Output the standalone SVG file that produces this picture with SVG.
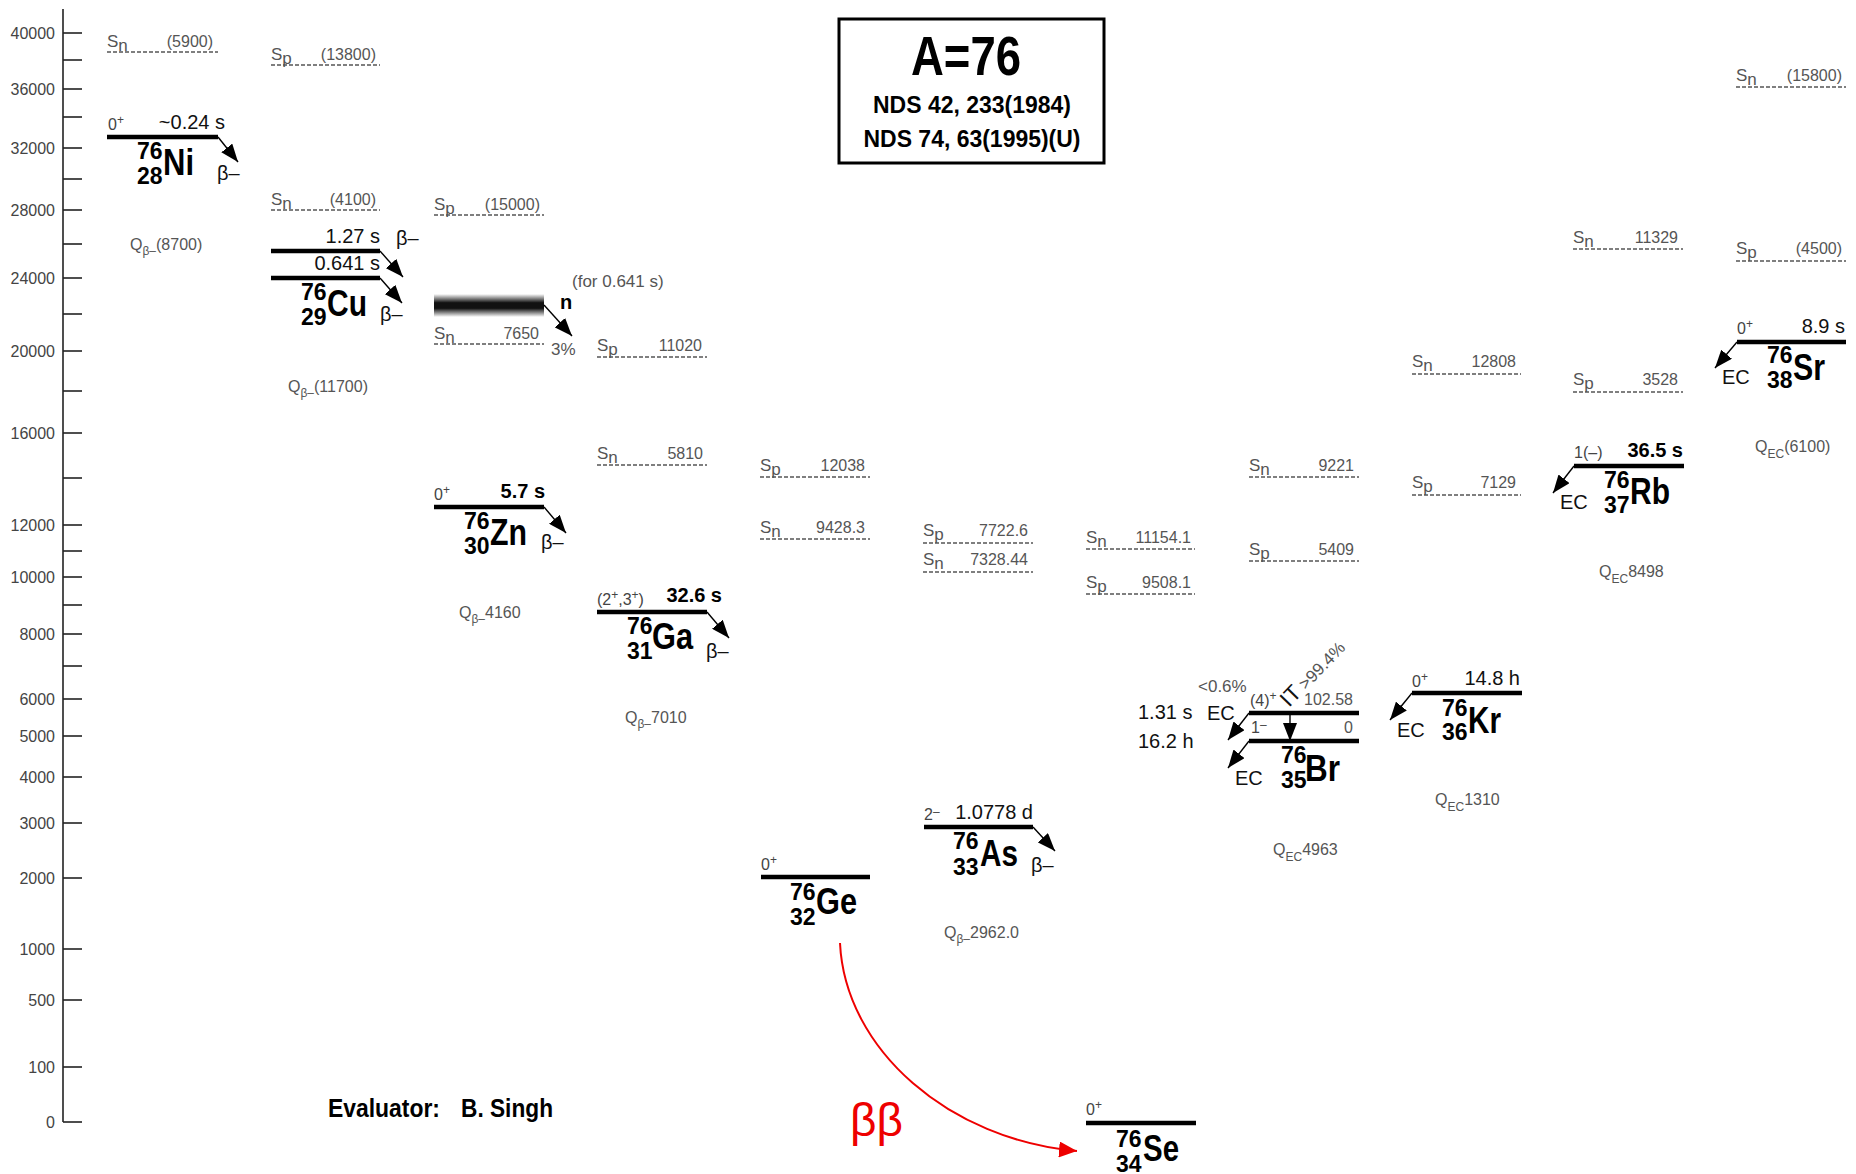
<svg xmlns="http://www.w3.org/2000/svg" width="1856" height="1174" viewBox="0 0 1856 1174">
<style>
text{font-family:"Liberation Sans",Arial,sans-serif}
.ax{font-size:16px;fill:#444;text-anchor:end}
.axl{stroke:#222;stroke-width:1.6}
.g{font-size:17px;fill:#555}
.ge{font-size:16px;fill:#555;text-anchor:end}
.dash{stroke:#555;stroke-width:1.4;stroke-dasharray:4 2}
.lvl{stroke:#000;stroke-width:4.5}
.sp{font-size:16px;fill:#444}
.sup{font-size:12px}
.hl{font-size:20px;fill:#111;text-anchor:end}
.hb{font-size:20px;fill:#000;font-weight:bold;text-anchor:end}
.mass{font-size:23px;font-weight:bold;fill:#000}
.sym{font-size:37px;font-weight:bold;fill:#000}
.q{font-size:16px;fill:#555}
.qs{font-size:12px}
.lab{font-size:20px;fill:#111}
.arr{stroke:#000;stroke-width:1.4;fill:none;marker-end:url(#ah)}
.tb{font-weight:bold;fill:#000;text-anchor:middle}
</style>
<defs>
<marker id="ah" markerUnits="userSpaceOnUse" markerWidth="18" markerHeight="14" refX="18" refY="7" orient="auto" viewBox="0 0 18 14"><path d="M0,0 L18,7 L0,14 z" fill="#000"/></marker>
<marker id="ahr" markerUnits="userSpaceOnUse" markerWidth="18" markerHeight="16" refX="18" refY="8" orient="auto" viewBox="0 0 18 16"><path d="M0,0 L18,8 L0,16 z" fill="#e00"/></marker>
<linearGradient id="band" x1="0" y1="0" x2="0" y2="1">
<stop offset="0" stop-color="#fff"/><stop offset="0.38" stop-color="#111"/><stop offset="0.62" stop-color="#111"/><stop offset="1" stop-color="#fff"/>
</linearGradient>
</defs>
<rect width="1856" height="1174" fill="#fff"/>

<g id="axis">
<line class="axl" x1="63" y1="9" x2="63" y2="1122"/>
<g class="axl">
<line x1="63" y1="33" x2="82" y2="33"/><line x1="63" y1="60" x2="82" y2="60"/><line x1="63" y1="89" x2="82" y2="89"/><line x1="63" y1="117" x2="82" y2="117"/><line x1="63" y1="148" x2="82" y2="148"/><line x1="63" y1="179" x2="82" y2="179"/><line x1="63" y1="210" x2="82" y2="210"/><line x1="63" y1="244" x2="82" y2="244"/><line x1="63" y1="278" x2="82" y2="278"/><line x1="63" y1="314" x2="82" y2="314"/><line x1="63" y1="351" x2="82" y2="351"/><line x1="63" y1="391" x2="82" y2="391"/><line x1="63" y1="433" x2="82" y2="433"/><line x1="63" y1="478" x2="82" y2="478"/><line x1="63" y1="525" x2="82" y2="525"/><line x1="63" y1="551" x2="82" y2="551"/><line x1="63" y1="577" x2="82" y2="577"/><line x1="63" y1="605" x2="82" y2="605"/><line x1="63" y1="634" x2="82" y2="634"/><line x1="63" y1="666" x2="82" y2="666"/><line x1="63" y1="699" x2="82" y2="699"/><line x1="63" y1="736" x2="82" y2="736"/><line x1="63" y1="777" x2="82" y2="777"/><line x1="63" y1="823" x2="82" y2="823"/><line x1="63" y1="878" x2="82" y2="878"/><line x1="63" y1="949" x2="82" y2="949"/><line x1="63" y1="1000" x2="82" y2="1000"/><line x1="63" y1="1067" x2="82" y2="1067"/><line x1="63" y1="1122" x2="82" y2="1122"/>
</g>
<text class="ax" x="55" y="39">40000</text><text class="ax" x="55" y="95">36000</text><text class="ax" x="55" y="154">32000</text><text class="ax" x="55" y="216">28000</text><text class="ax" x="55" y="284">24000</text><text class="ax" x="55" y="357">20000</text><text class="ax" x="55" y="439">16000</text><text class="ax" x="55" y="531">12000</text><text class="ax" x="55" y="583">10000</text><text class="ax" x="55" y="640">8000</text><text class="ax" x="55" y="705">6000</text><text class="ax" x="55" y="742">5000</text><text class="ax" x="55" y="783">4000</text><text class="ax" x="55" y="829">3000</text><text class="ax" x="55" y="884">2000</text><text class="ax" x="55" y="955">1000</text><text class="ax" x="55" y="1006">500</text><text class="ax" x="55" y="1073">100</text><text class="ax" x="55" y="1128">0</text>
</g>

<g id="title">
<rect x="839" y="19" width="265" height="144" fill="none" stroke="#000" stroke-width="3"/>
<text class="tb" x="966" y="75" font-size="56" textLength="110" lengthAdjust="spacingAndGlyphs">A=76</text>
<text class="tb" x="972" y="113" font-size="24" textLength="198" lengthAdjust="spacingAndGlyphs">NDS 42, 233(1984)</text>
<text class="tb" x="972" y="147" font-size="24" textLength="217" lengthAdjust="spacingAndGlyphs">NDS 74, 63(1995)(U)</text>
</g>

<g id="evaluator">
<text x="328" y="1117" font-size="25" font-weight="bold" textLength="112" lengthAdjust="spacingAndGlyphs">Evaluator:</text>
<text x="461" y="1117" font-size="25" font-weight="bold" textLength="92" lengthAdjust="spacingAndGlyphs">B. Singh</text>
</g>

<g id="ni76">
<line class="dash" x1="107" y1="52" x2="218" y2="52"/>
<text class="g" x="107" y="47">S<tspan dy="4">n</tspan></text>
<text class="ge" x="213" y="47">(5900)</text>
<line class="lvl" x1="107" y1="137" x2="218" y2="137"/>
<text class="sp" x="108" y="130">0<tspan class="sup" dy="-6">+</tspan></text>
<text class="hl" x="225" y="129">~0.24 s</text>
<text class="mass" x="137" y="159">76</text>
<text class="mass" x="137" y="184">28</text>
<text class="sym" x="163" y="175" textLength="31" lengthAdjust="spacingAndGlyphs">Ni</text>
<text class="q" x="130" y="250">Q<tspan class="qs" dy="5">β–</tspan><tspan dy="-5">(8700)</tspan></text>
</g>

<g id="cu76">
<line class="dash" x1="271" y1="65" x2="380" y2="65"/>
<text class="g" x="271" y="60">S<tspan dy="4">p</tspan></text>
<text class="ge" x="376" y="60">(13800)</text>
<line class="dash" x1="271" y1="210" x2="380" y2="210"/>
<text class="g" x="271" y="205">S<tspan dy="4">n</tspan></text>
<text class="ge" x="376" y="205">(4100)</text>
<line class="lvl" x1="271" y1="251" x2="380" y2="251"/>
<line class="lvl" x1="271" y1="278" x2="380" y2="278"/>
<text class="hl" x="380" y="243">1.27 s</text>
<text class="hl" x="380" y="270">0.641 s</text>
<text class="mass" x="301" y="300">76</text>
<text class="mass" x="301" y="325">29</text>
<text class="sym" x="327" y="316" textLength="40" lengthAdjust="spacingAndGlyphs">Cu</text>
<text class="q" x="288" y="392">Q<tspan class="qs" dy="5">β–</tspan><tspan dy="-5">(11700)</tspan></text>
</g>

<g id="zn76">
<line class="dash" x1="434" y1="215" x2="544" y2="215"/>
<text class="g" x="434" y="210">S<tspan dy="4">p</tspan></text>
<text class="ge" x="540" y="210">(15000)</text>
<rect x="434" y="294" width="110" height="23" fill="url(#band)"/>
<line class="dash" x1="434" y1="344" x2="544" y2="344"/>
<text class="g" x="434" y="339">S<tspan dy="4">n</tspan></text>
<text class="ge" x="539" y="339">7650</text>
<text class="g" x="572" y="287" font-size="16">(for 0.641 s)</text>
<line class="lvl" x1="434" y1="507" x2="544" y2="507"/>
<text class="sp" x="434" y="500">0<tspan class="sup" dy="-6">+</tspan></text>
<text class="hb" x="545" y="498">5.7 s</text>
<text class="mass" x="464" y="529">76</text>
<text class="mass" x="464" y="554">30</text>
<text class="sym" x="490" y="545" textLength="37" lengthAdjust="spacingAndGlyphs">Zn</text>
<text class="q" x="459" y="618">Q<tspan class="qs" dy="5">β–</tspan><tspan dy="-5">4160</tspan></text>
</g>

<g id="ga76">
<line class="dash" x1="597" y1="357" x2="707" y2="357"/>
<text class="g" x="597" y="351">S<tspan dy="4">p</tspan></text>
<text class="ge" x="702" y="351">11020</text>
<line class="dash" x1="597" y1="465" x2="707" y2="465"/>
<text class="g" x="597" y="459">S<tspan dy="4">n</tspan></text>
<text class="ge" x="703" y="459">5810</text>
<line class="lvl" x1="597" y1="612" x2="707" y2="612"/>
<text class="sp" x="597" y="605">(2<tspan class="sup" dy="-6">+</tspan><tspan dy="6">,3</tspan><tspan class="sup" dy="-6">+</tspan><tspan dy="6">)</tspan></text>
<text class="hb" x="722" y="602">32.6 s</text>
<text class="mass" x="627" y="634">76</text>
<text class="mass" x="627" y="659">31</text>
<text class="sym" x="652" y="649" textLength="41" lengthAdjust="spacingAndGlyphs">Ga</text>
<text class="q" x="625" y="723">Q<tspan class="qs" dy="5">β–</tspan><tspan dy="-5">7010</tspan></text>
</g>

<g id="ge76">
<line class="dash" x1="760" y1="477" x2="870" y2="477"/>
<text class="g" x="760" y="471">S<tspan dy="4">p</tspan></text>
<text class="ge" x="865" y="471">12038</text>
<line class="dash" x1="760" y1="539" x2="870" y2="539"/>
<text class="g" x="760" y="533">S<tspan dy="4">n</tspan></text>
<text class="ge" x="865" y="533">9428.3</text>
<line class="lvl" x1="761" y1="877" x2="870" y2="877"/>
<text class="sp" x="761" y="870">0<tspan class="sup" dy="-6">+</tspan></text>
<text class="mass" x="790" y="900">76</text>
<text class="mass" x="790" y="925">32</text>
<text class="sym" x="816" y="914" textLength="41" lengthAdjust="spacingAndGlyphs">Ge</text>
</g>

<g id="as76">
<line class="dash" x1="923" y1="543" x2="1033" y2="543"/>
<text class="g" x="923" y="536">S<tspan dy="4">p</tspan></text>
<text class="ge" x="1028" y="536">7722.6</text>
<line class="dash" x1="923" y1="572" x2="1033" y2="572"/>
<text class="g" x="923" y="565">S<tspan dy="4">n</tspan></text>
<text class="ge" x="1028" y="565">7328.44</text>
<line class="lvl" x1="924" y1="827" x2="1033" y2="827"/>
<text class="sp" x="924" y="820">2<tspan class="sup" dy="-4">–</tspan></text>
<text class="hl" x="1033" y="819">1.0778 d</text>
<text class="mass" x="953" y="849">76</text>
<text class="mass" x="953" y="875">33</text>
<text class="sym" x="980" y="866" textLength="38" lengthAdjust="spacingAndGlyphs">As</text>
<text class="q" x="944" y="938">Q<tspan class="qs" dy="5">β–</tspan><tspan dy="-5">2962.0</tspan></text>
</g>

<g id="se76">
<line class="dash" x1="1086" y1="549" x2="1195" y2="549"/>
<text class="g" x="1086" y="543">S<tspan dy="4">n</tspan></text>
<text class="ge" x="1191" y="543">11154.1</text>
<line class="dash" x1="1086" y1="594" x2="1195" y2="594"/>
<text class="g" x="1086" y="588">S<tspan dy="4">p</tspan></text>
<text class="ge" x="1191" y="588">9508.1</text>
<line class="lvl" x1="1086" y1="1123" x2="1196" y2="1123"/>
<text class="sp" x="1086" y="1115">0<tspan class="sup" dy="-6">+</tspan></text>
<text class="mass" x="1116" y="1147">76</text>
<text class="mass" x="1116" y="1172">34</text>
<text class="sym" x="1143" y="1161" textLength="36" lengthAdjust="spacingAndGlyphs">Se</text>
</g>

<g id="br76">
<line class="dash" x1="1249" y1="477" x2="1359" y2="477"/>
<text class="g" x="1249" y="471">S<tspan dy="4">n</tspan></text>
<text class="ge" x="1354" y="471">9221</text>
<line class="dash" x1="1249" y1="561" x2="1359" y2="561"/>
<text class="g" x="1249" y="555">S<tspan dy="4">p</tspan></text>
<text class="ge" x="1354" y="555">5409</text>
<line class="lvl" x1="1249" y1="713" x2="1359" y2="713"/>
<line class="lvl" x1="1249" y1="741" x2="1359" y2="741"/>
<text class="sp" x="1250" y="706">(4)<tspan class="sup" dy="-6">+</tspan></text>
<text class="ge" x="1353" y="705">102.58</text>
<text class="sp" x="1251" y="733">1<tspan class="sup" dy="-4">–</tspan></text>
<text class="ge" x="1353" y="733">0</text>
<text class="lab" x="1138" y="719">1.31 s</text>
<text class="lab" x="1138" y="748">16.2 h</text>
<text class="mass" x="1281" y="763">76</text>
<text class="mass" x="1281" y="788">35</text>
<text class="sym" x="1305" y="781" textLength="35" lengthAdjust="spacingAndGlyphs">Br</text>
<text class="q" x="1273" y="855">Q<tspan class="qs" dy="6">EC</tspan><tspan dy="-6">4963</tspan></text>
</g>

<g id="kr76">
<line class="dash" x1="1412" y1="374" x2="1521" y2="374"/>
<text class="g" x="1412" y="367">S<tspan dy="4">n</tspan></text>
<text class="ge" x="1516" y="367">12808</text>
<line class="dash" x1="1412" y1="495" x2="1521" y2="495"/>
<text class="g" x="1412" y="488">S<tspan dy="4">p</tspan></text>
<text class="ge" x="1516" y="488">7129</text>
<line class="lvl" x1="1412" y1="693" x2="1522" y2="693"/>
<text class="sp" x="1412" y="687">0<tspan class="sup" dy="-6">+</tspan></text>
<text class="hl" x="1520" y="685">14.8 h</text>
<text class="mass" x="1442" y="716">76</text>
<text class="mass" x="1442" y="740">36</text>
<text class="sym" x="1468" y="733" textLength="33" lengthAdjust="spacingAndGlyphs">Kr</text>
<text class="q" x="1435" y="805">Q<tspan class="qs" dy="6">EC</tspan><tspan dy="-6">1310</tspan></text>
</g>

<g id="rb76">
<line class="dash" x1="1573" y1="249" x2="1683" y2="249"/>
<text class="g" x="1573" y="243">S<tspan dy="4">n</tspan></text>
<text class="ge" x="1678" y="243">11329</text>
<line class="dash" x1="1573" y1="392" x2="1683" y2="392"/>
<text class="g" x="1573" y="385">S<tspan dy="4">p</tspan></text>
<text class="ge" x="1678" y="385">3528</text>
<line class="lvl" x1="1574" y1="466" x2="1684" y2="466"/>
<text class="sp" x="1574" y="458">1(–)</text>
<text class="hb" x="1683" y="457">36.5 s</text>
<text class="mass" x="1604" y="488">76</text>
<text class="mass" x="1604" y="513">37</text>
<text class="sym" x="1630" y="504" textLength="40" lengthAdjust="spacingAndGlyphs">Rb</text>
<text class="q" x="1599" y="577">Q<tspan class="qs" dy="6">EC</tspan><tspan dy="-6">8498</tspan></text>
</g>

<g id="sr76">
<line class="dash" x1="1736" y1="87" x2="1846" y2="87"/>
<text class="g" x="1736" y="81">S<tspan dy="4">n</tspan></text>
<text class="ge" x="1842" y="81">(15800)</text>
<line class="dash" x1="1736" y1="261" x2="1846" y2="261"/>
<text class="g" x="1736" y="254">S<tspan dy="4">p</tspan></text>
<text class="ge" x="1842" y="254">(4500)</text>
<line class="lvl" x1="1737" y1="342" x2="1846" y2="342"/>
<text class="sp" x="1737" y="334">0<tspan class="sup" dy="-6">+</tspan></text>
<text class="hl" x="1845" y="333">8.9 s</text>
<text class="mass" x="1767" y="363">76</text>
<text class="mass" x="1767" y="388">38</text>
<text class="sym" x="1793" y="380" textLength="32" lengthAdjust="spacingAndGlyphs">Sr</text>
<text class="q" x="1755" y="452">Q<tspan class="qs" dy="6">EC</tspan><tspan dy="-6">(6100)</tspan></text>
</g>

<g id="connectors">
<line class="arr" x1="218" y1="137" x2="238" y2="162"/>
<text class="lab" x="217" y="180">β–</text>
<line class="arr" x1="380" y1="251" x2="403" y2="277"/>
<text class="lab" x="396" y="245">β–</text>
<line class="arr" x1="380" y1="278" x2="402" y2="303"/>
<text class="lab" x="380" y="321">β–</text>
<line class="arr" x1="544" y1="305" x2="572" y2="336"/>
<text x="560" y="309" font-size="20" font-weight="bold">n</text>
<text class="g" x="551" y="355" font-size="16">3%</text>
<line class="arr" x1="544" y1="507" x2="566" y2="533"/>
<text class="lab" x="541" y="549">β–</text>
<line class="arr" x1="707" y1="612" x2="729" y2="638"/>
<text class="lab" x="706" y="658">β–</text>
<line class="arr" x1="1033" y1="827" x2="1055" y2="851"/>
<text class="lab" x="1031" y="872">β–</text>
<line class="arr" x1="1249" y1="713" x2="1228" y2="740"/>
<text class="g" x="1198" y="692" font-size="15">&lt;0.6%</text>
<text class="lab" x="1207" y="720">EC</text>
<line class="arr" x1="1249" y1="741" x2="1228" y2="768"/>
<text class="lab" x="1235" y="785">EC</text>
<line class="arr" x1="1290" y1="715" x2="1290" y2="741"/>
<text transform="translate(1289,708) rotate(-46)"><tspan font-size="22" fill="#111">IT</tspan><tspan font-size="17" fill="#555"> &gt;99.4%</tspan></text>
<line class="arr" x1="1412" y1="693" x2="1390" y2="720"/>
<text class="lab" x="1397" y="737">EC</text>
<line class="arr" x1="1574" y1="466" x2="1553" y2="493"/>
<text class="lab" x="1560" y="509">EC</text>
<line class="arr" x1="1737" y1="342" x2="1715" y2="368"/>
<text class="lab" x="1722" y="384">EC</text>
<path d="M840,943 C845,1050 950,1140 1077,1151" fill="none" stroke="#e00" stroke-width="2" marker-end="url(#ahr)"/>
<text x="850" y="1136" font-size="46" fill="#e00">ββ</text>
</g>
</svg>
